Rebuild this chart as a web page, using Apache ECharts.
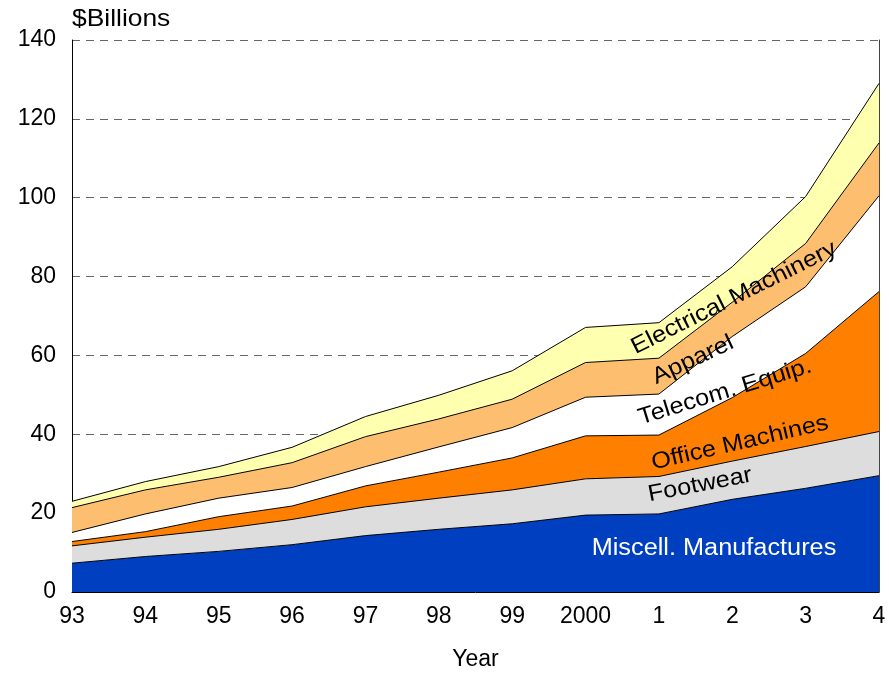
<!DOCTYPE html>
<html>
<head>
<meta charset="utf-8">
<script src="https://cdn.jsdelivr.net/npm/echarts@6/dist/echarts.min.js"></script>
<style>html,body{margin:0;padding:0;background:#fff}#c{width:889px;height:673px}</style>
</head>
<body>
<div id="c"></div>
<script>
const years = ['93','94','95','96','97','98','99','2000','1','2','3','4'];
const miscell    = [7.3, 9.0, 10.3, 12.0, 14.3, 15.9, 17.3, 19.5, 19.8, 23.5, 26.3, 29.5];
const footwear   = [4.4, 4.9, 5.6, 6.4, 7.3, 7.9, 8.6, 9.2, 9.5, 9.7, 10.6, 11.2];
const office     = [1.1, 1.4, 3.2, 3.4, 5.3, 6.6, 8.1, 10.9, 10.5, 16.1, 23.6, 35.5];
const telecom    = [2.3, 4.5, 4.7, 4.7, 4.9, 6.4, 7.7, 9.8, 10.4, 15.5, 16.9, 24.3];
const apparel    = [6.3, 6.1, 5.3, 6.3, 7.6, 7.1, 7.2, 8.8, 9.1, 8.7, 11.0, 13.4];
const electrical = [1.6, 2.1, 2.7, 3.9, 5.1, 6.0, 7.2, 8.9, 9.0, 9.0, 11.9, 15.1];
const yTicks = [0, 20, 40, 60, 80, 100, 120, 140];

const FONT = 'Liberation Sans, Arial, sans-serif';
const chart = echarts.init(document.getElementById('c'), null, {renderer: 'canvas'});

function mk(name, data, color) {
  return {
    name, type: 'line', stack: 'total', data,
    symbol: 'none', smooth: false,
    lineStyle: {color: '#000', width: 1},
    areaStyle: {color, opacity: 1},
    itemStyle: {color},
    emphasis: {disabled: true},
    z: 2
  };
}

function lbl(text, x, y, deg, color, size) {
  return {
    type: 'text', x, y, rotation: deg * Math.PI / 180, z: 100,
    scaleX: 1.1,
    style: {text, fill: color, font: size + 'px ' + FONT, align: 'center', verticalAlign: 'middle'}
  };
}

chart.setOption({
  animation: false,
  backgroundColor: '#fff',
  grid: {left: 72, right: 10, top: 40, bottom: 81, containLabel: false, outerBoundsMode: 'none'},
  xAxis: {
    type: 'category', data: years, boundaryGap: false,
    name: 'Year', nameLocation: 'middle', nameGap: 56,
    nameTextStyle: {color: '#000', fontSize: 23, fontFamily: FONT},
    axisLine: {lineStyle: {color: '#000', width: 1}},
    axisTick: {show: false},
    axisLabel: {color: '#000', fontSize: 23, fontFamily: FONT, margin: 13},
    splitLine: {show: false}
  },
  yAxis: [{
    type: 'value', min: yTicks[0], max: yTicks[yTicks.length - 1], interval: 20,
    axisLine: {show: true, lineStyle: {color: '#000', width: 1}},
    axisTick: {show: false},
    axisLabel: {color: '#000', fontSize: 23, fontFamily: FONT, margin: 16},
    splitLine: {show: true, lineStyle: {color: '#666', type: [8, 6], width: 1}}
  }, {
    type: 'value', min: 0, max: 140, interval: 20, position: 'right',
    axisLine: {show: true, lineStyle: {color: '#444', width: 1}},
    axisTick: {show: false}, axisLabel: {show: false}, splitLine: {show: false}
  }],
  series: [
    mk('Miscell. Manufactures', miscell, '#0040C0'),
    mk('Footwear', footwear, '#DDDDDD'),
    mk('Office Machines', office, '#FF8000'),
    mk('Telecom. Equip.', telecom, '#FFFFFF'),
    mk('Apparel', apparel, '#FDBF6F'),
    mk('Electrical Machinery', electrical, '#FFFFB0')
  ],
  graphic: [
    {type: 'text', x: 72, y: 7, z: 100, scaleX: 1.1, style: {text: '$Billions', fill: '#000', font: '24px ' + FONT}},
    lbl('Miscell. Manufactures', 714, 549, 0, '#fff', 23),
    lbl('Footwear', 700, 485, 11, '#000', 23),
    lbl('Office Machines', 740, 443, 13, '#000', 23),
    lbl('Telecom. Equip.', 725, 392, 17, '#000', 23),
    lbl('Apparel', 693, 360, 25, '#000', 23),
    lbl('Electrical Machinery', 734, 298, 26.5, '#000', 23)
  ]
});
</script>
</body>
</html>
